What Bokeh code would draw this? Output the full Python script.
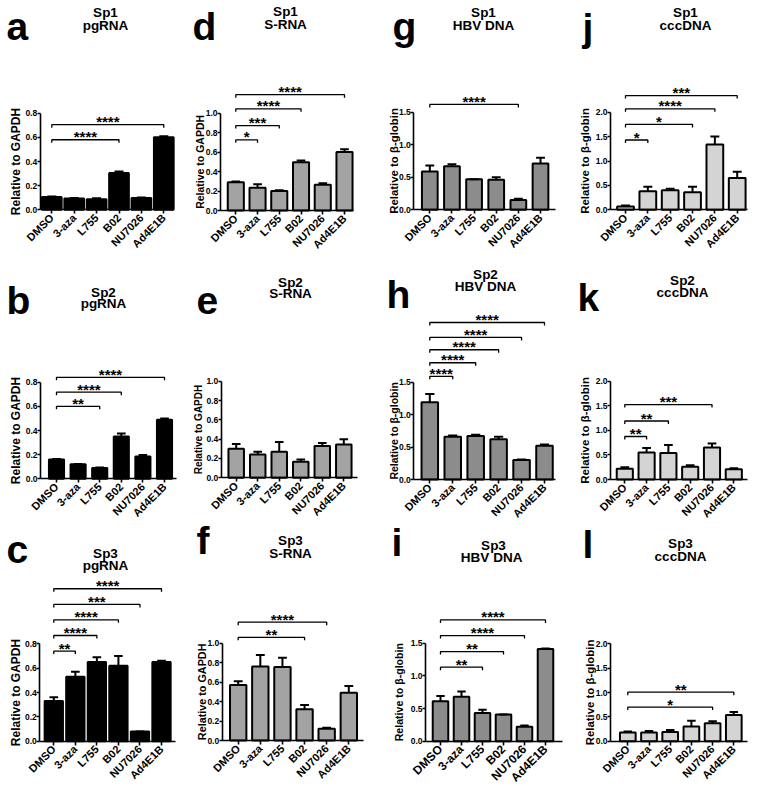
import math
from bokeh.plotting import figure
from bokeh.models import Range1d, FixedTicker, Label, ColumnDataSource
from bokeh.layouts import row, column
from bokeh.embed import file_html
from bokeh.resources import INLINE
from bokeh.core.properties import value

# ---------------- data ----------------
categories = ["DMSO", "3-aza", "L755", "B02", "NU7026", "Ad4E1B"]

# Sp1
sp1_pgrna_mean = [0.105, 0.093, 0.088, 0.305, 0.098, 0.600]
sp1_pgrna_sem = [0.005, 0.004, 0.007, 0.013, 0.004, 0.010]
sp1_pgrna_sig = [("B02", 0.58, "****"), ("Ad4E1B", 0.705, "****")]

sp1_srna_mean = [0.29, 0.235, 0.20, 0.495, 0.265, 0.60]
sp1_srna_sem = [0.008, 0.035, 0.008, 0.02, 0.015, 0.03]
sp1_srna_sig = [("3-aza", 0.726, "*"), ("L755", 0.873, "***"),
                ("B02", 1.045, "****"), ("Ad4E1B", 1.19, "****")]

sp1_hbv_mean = [0.59, 0.67, 0.47, 0.46, 0.15, 0.71]
sp1_hbv_sem = [0.09, 0.03, 0.0, 0.04, 0.02, 0.09]
sp1_hbv_sig = [("NU7026", 1.62, "****")]

sp1_ccc_mean = [0.07, 0.38, 0.40, 0.36, 1.34, 0.65]
sp1_ccc_sem = [0.02, 0.09, 0.03, 0.11, 0.16, 0.13]
sp1_ccc_sig = [("3-aza", 1.43, "*"), ("B02", 1.75, "*"),
               ("NU7026", 2.07, "****"), ("Ad4E1B", 2.34, "***")]

# Sp2
sp2_pgrna_mean = [0.16, 0.12, 0.09, 0.35, 0.185, 0.49]
sp2_pgrna_sem = [0.005, 0.003, 0.003, 0.025, 0.012, 0.01]
sp2_pgrna_sig = [("L755", 0.60, "**"), ("B02", 0.717, "****"), ("Ad4E1B", 0.84, "****")]

sp2_srna_mean = [0.30, 0.24, 0.27, 0.165, 0.33, 0.345]
sp2_srna_sem = [0.05, 0.03, 0.10, 0.025, 0.03, 0.055]
sp2_srna_sig = []

sp2_hbv_mean = [1.19, 0.66, 0.67, 0.62, 0.30, 0.52]
sp2_hbv_sem = [0.13, 0.02, 0.02, 0.04, 0.01, 0.02]
sp2_hbv_sig = [("3-aza", 1.59, "****"), ("L755", 1.80, "****"), ("B02", 2.00, "****"),
               ("NU7026", 2.19, "****"), ("Ad4E1B", 2.42, "****")]

sp2_ccc_mean = [0.22, 0.55, 0.54, 0.26, 0.65, 0.21]
sp2_ccc_sem = [0.03, 0.09, 0.16, 0.03, 0.08, 0.02]
sp2_ccc_sig = [("3-aza", 0.875, "**"), ("L755", 1.19, "**"), ("NU7026", 1.525, "***")]

# Sp3
sp3_pgrna_mean = [0.33, 0.53, 0.65, 0.62, 0.08, 0.65]
sp3_pgrna_sem = [0.03, 0.04, 0.04, 0.08, 0.0, 0.01]
sp3_pgrna_sig = [("3-aza", 0.74, "**"), ("L755", 0.868, "****"), ("B02", 0.997, "****"),
                 ("NU7026", 1.123, "***"), ("Ad4E1B", 1.252, "****")]

sp3_srna_mean = [0.57, 0.76, 0.755, 0.32, 0.12, 0.49]
sp3_srna_sem = [0.04, 0.12, 0.095, 0.045, 0.01, 0.07]
sp3_srna_sig = [("B02", 1.06, "**"), ("NU7026", 1.216, "****")]

sp3_hbv_mean = [0.61, 0.68, 0.43, 0.41, 0.22, 1.41]
sp3_hbv_sem = [0.08, 0.08, 0.05, 0.0, 0.02, 0.01]
sp3_hbv_sig = [("L755", 1.133, "**"), ("B02", 1.372, "**"),
               ("NU7026", 1.617, "****"), ("Ad4E1B", 1.857, "****")]

sp3_ccc_mean = [0.18, 0.18, 0.19, 0.30, 0.37, 0.54]
sp3_ccc_sem = [0.02, 0.03, 0.04, 0.12, 0.04, 0.06]
sp3_ccc_sig = [("NU7026", 0.70, "*"), ("Ad4E1B", 1.007, "**")]

# ---------------- layout / style ----------------
FONT = "Liberation Sans"
INK = "#000000"
COL_EDGES = [0, 190, 380, 570, 757]
ROW_EDGES = [0, 260, 520, 786]

GAPDH = "Relative to GAPDH"
BGLOB = "Relative to \u03b2-globin"

LETTER_SIZE = 39
LETTER_SHIFT = 0.33 * LETTER_SIZE   # renderer places the alphabetic baseline lower

# pixel positions measured on the reference (page coordinates)
LAY = {
    "a": dict(ax=39.7, xe=173.3, y0=209.3, yt=112.7, c0=51.3, c5=163.3, bw=0.88, tcx=105, ty1=12, ty2=25, lx=6, lb=39, ylx=15.5, yls=12),
    "d": dict(ax=220.0, xe=353.3, y0=210.0, yt=112.7, c0=235.3, c5=344.0, bw=0.74, tcx=285, ty1=11, ty2=24, lx=192, lb=39, ylx=199.5, yls=10.5),
    "g": dict(ax=413.3, xe=555.0, y0=209.3, yt=111.7, c0=429.3, c5=540.0, bw=0.71, tcx=483, ty1=12, ty2=25, lx=392, lb=39, ylx=393, yls=11.4),
    "j": dict(ax=610.0, xe=746.7, y0=209.3, yt=111.7, c0=625.0, c5=736.7, bw=0.75, tcx=685, ty1=12, ty2=25, lx=582, lb=40, ylx=584.5, yls=11.4),
    "b": dict(ax=40.0, xe=176.0, y0=478.3, yt=381.7, c0=56.0, c5=164.0, bw=0.70, tcx=103, ty1=291.7, ty2=303.3, lx=6, lb=313, ylx=15.5, yls=12),
    "e": dict(ax=220.7, xe=356.7, y0=477.3, yt=380.7, c0=235.7, c5=343.3, bw=0.72, tcx=290, ty1=281.7, ty2=293.3, lx=196, lb=313, ylx=197.5, yls=10),
    "h": dict(ax=413.3, xe=555.0, y0=479.0, yt=381.7, c0=429.3, c5=544.0, bw=0.72, tcx=485, ty1=274, ty2=286, lx=386, lb=307, ylx=393, yls=10.5),
    "k": dict(ax=610.0, xe=746.7, y0=479.0, yt=380.7, c0=624.3, c5=733.3, bw=0.74, tcx=682, ty1=280, ty2=291.7, lx=577, lb=310, ylx=584, yls=11.5),
    "c": dict(ax=39.3, xe=175.0, y0=740.7, yt=643.3, c0=53.3, c5=161.0, bw=0.85, tcx=105, ty1=553.3, ty2=565, lx=6, lb=562, ylx=15.5, yls=12),
    "f": dict(ax=221.7, xe=363.3, y0=740.0, yt=642.7, c0=237.7, c5=348.3, bw=0.74, tcx=290, ty1=540, ty2=553.3, lx=196, lb=553, ylx=201.5, yls=10.8),
    "i": dict(ax=425.0, xe=561.7, y0=740.7, yt=642.7, c0=440.0, c5=545.0, bw=0.74, tcx=493, ty1=545, ty2=556.7, lx=391, lb=555, ylx=398.5, yls=10.6),
    "l": dict(ax=610.0, xe=746.7, y0=740.7, yt=643.3, c0=627.3, c5=733.3, bw=0.74, tcx=680, ty1=543.3, ty2=556, lx=582, lb=557, ylx=589, yls=11.4),
}

BLACK_FILL = "#000000"
MID_FILL = "#a3a3a3"
DARK_FILL = "#8c8c8c"
LIGHT_FILL = "#d4d4d4"


def build(col, rw, letter, t1, t2, ylabel, mean, sem, sig, fill, ymax, ystep, xls="11px"):
    L = LAY[letter]
    cl, cr = COL_EDGES[col], COL_EDGES[col + 1]
    rt, rb = ROW_EDGES[rw], ROW_EDGES[rw + 1]
    sp = (L["c5"] - L["c0"]) / 5.0
    ppu = (L["y0"] - L["yt"]) / ymax

    def dx(px):
        return (px - L["c0"]) / sp

    def dy(py):
        return (L["y0"] - py) / ppu

    p = figure(width=cr - cl, height=rb - rt,
               x_range=Range1d(dx(cl), dx(cr)),
               y_range=Range1d(dy(rb), dy(rt)),
               output_backend="svg", toolbar_location=None,
               min_border=0, min_border_left=0, min_border_right=0,
               min_border_top=0, min_border_bottom=0)
    p.outline_line_color = None
    p.xgrid.visible = False
    p.ygrid.visible = False
    p.background_fill_color = "white"
    p.border_fill_color = "white"

    xs = list(range(len(categories)))
    tops = [m + s for m, s in zip(mean, sem)]
    src = ColumnDataSource(dict(x=xs, top=mean, err=tops,
                                cap0=[x - 0.2 for x in xs], cap1=[x + 0.2 for x in xs]))
    p.vbar(x="x", top="top", bottom=0, width=L["bw"], source=src,
           fill_color=fill, line_color=INK, line_width=2)
    p.segment(x0="x", y0="top", x1="x", y1="err", source=src, line_color=INK, line_width=2)
    p.segment(x0="cap0", y0="err", x1="cap1", y1="err", source=src, line_color=INK, line_width=2)

    # significance brackets
    tick = 3.0 / ppu
    bxs, bys, tx, ty, tt = [], [], [], [], []
    for target, level, stars in sig:
        j = categories.index(target)
        bxs.append([0, 0, j, j])
        bys.append([level - tick, level, level, level - tick])
        tx.append(j / 2.0)
        ty.append(level)
        tt.append(stars)
    if sig:
        p.multi_line(xs=bxs, ys=bys, line_color=INK, line_width=1.3)
        p.text(x=tx, y=ty, text=tt, text_align="center", text_baseline="alphabetic",
               y_offset=-3, text_font=value(FONT), text_font_style="bold",
               text_font_size="15px", text_color=INK)

    # axes (fixed inside the frame so every text stays visible)
    for ax in (p.xaxis[0], p.yaxis[0]):
        ax.major_label_text_font = FONT
        ax.major_label_text_font_style = "bold"
        ax.major_label_text_color = INK
        ax.axis_line_color = INK
        ax.major_tick_line_color = INK
        ax.minor_tick_line_color = None
        ax.axis_line_width = 1.6
        ax.major_tick_line_width = 1.6
        ax.major_tick_in = 0

    xa = p.xaxis[0]
    xa.fixed_location = 0
    xa.bounds = (dx(L["ax"]), dx(L["xe"]))
    xa.ticker = FixedTicker(ticks=xs)
    xa.major_label_overrides = {i: c for i, c in enumerate(categories)}
    xa.major_label_orientation = math.pi / 4
    xa.major_label_text_font_size = xls
    xa.major_label_standoff = 2
    xa.major_tick_out = 4

    ya = p.yaxis[0]
    ya.fixed_location = dx(L["ax"])
    nt = int(round(ymax / ystep))
    ya.ticker = FixedTicker(ticks=[round(i * ystep, 3) for i in range(nt + 1)])
    ya.major_label_overrides = {round(i * ystep, 3): "%.1f" % (i * ystep) for i in range(nt + 1)}
    ya.bounds = (0, ymax)
    ya.major_label_text_font_size = "8.5px"
    ya.major_label_standoff = 0
    ya.major_tick_out = 3

    # axis title, panel title and letter
    p.add_layout(Label(x=dx(L["ylx"]), y=ymax / 2.0, text=ylabel, angle=math.pi / 2,
                       text_align="center", text_baseline="middle", text_font=FONT,
                       text_font_style="bold", text_color=INK,
                       text_font_size="%spx" % L["yls"]))
    p.add_layout(Label(x=dx(L["tcx"]), y=dy(L["ty1"]), text=t1, text_align="center",
                       text_baseline="middle", text_font=FONT, text_font_style="bold",
                       text_color=INK, text_font_size="13.5px"))
    p.add_layout(Label(x=dx(L["tcx"]), y=dy(L["ty2"]), text=t2, text_align="center",
                       text_baseline="middle", text_font=FONT, text_font_style="bold",
                       text_color=INK, text_font_size="13.5px"))
    p.add_layout(Label(x=dx(L["lx"]), y=dy(L["lb"] - LETTER_SHIFT), text=letter, text_align="left",
                       text_baseline="alphabetic", text_font=FONT, text_font_style="bold",
                       text_color=INK, text_font_size="%dpx" % LETTER_SIZE))
    return p


pa = build(0, 0, "a", "Sp1", "pgRNA", GAPDH, sp1_pgrna_mean, sp1_pgrna_sem, sp1_pgrna_sig, BLACK_FILL, 0.8, 0.2)
pd_ = build(1, 0, "d", "Sp1", "S-RNA", GAPDH, sp1_srna_mean, sp1_srna_sem, sp1_srna_sig, MID_FILL, 1.0, 0.2)
pg = build(2, 0, "g", "Sp1", "HBV DNA", BGLOB, sp1_hbv_mean, sp1_hbv_sem, sp1_hbv_sig, DARK_FILL, 1.5, 0.5)
pj = build(3, 0, "j", "Sp1", "cccDNA", BGLOB, sp1_ccc_mean, sp1_ccc_sem, sp1_ccc_sig, LIGHT_FILL, 2.0, 0.5)

pb = build(0, 1, "b", "Sp2", "pgRNA", GAPDH, sp2_pgrna_mean, sp2_pgrna_sem, sp2_pgrna_sig, BLACK_FILL, 0.8, 0.2)
pe = build(1, 1, "e", "Sp2", "S-RNA", GAPDH, sp2_srna_mean, sp2_srna_sem, sp2_srna_sig, MID_FILL, 1.0, 0.2)
ph = build(2, 1, "h", "Sp2", "HBV DNA", BGLOB, sp2_hbv_mean, sp2_hbv_sem, sp2_hbv_sig, DARK_FILL, 1.5, 0.5)
pk = build(3, 1, "k", "Sp2", "cccDNA", BGLOB, sp2_ccc_mean, sp2_ccc_sem, sp2_ccc_sig, LIGHT_FILL, 2.0, 0.5)

pc = build(0, 2, "c", "Sp3", "pgRNA", GAPDH, sp3_pgrna_mean, sp3_pgrna_sem, sp3_pgrna_sig, BLACK_FILL, 0.8, 0.2)
pf = build(1, 2, "f", "Sp3", "S-RNA", GAPDH, sp3_srna_mean, sp3_srna_sem, sp3_srna_sig, MID_FILL, 1.0, 0.2)
pi_ = build(2, 2, "i", "Sp3", "HBV  DNA", BGLOB, sp3_hbv_mean, sp3_hbv_sem, sp3_hbv_sig, DARK_FILL, 1.5, 0.5, xls="12px")
pl = build(3, 2, "l", "Sp3", "cccDNA", BGLOB, sp3_ccc_mean, sp3_ccc_sem, sp3_ccc_sig, LIGHT_FILL, 2.0, 0.5)

layout = column(row(pa, pd_, pg, pj), row(pb, pe, ph, pk), row(pc, pf, pi_, pl))

open("out.html", "w").write(file_html(layout, INLINE))
